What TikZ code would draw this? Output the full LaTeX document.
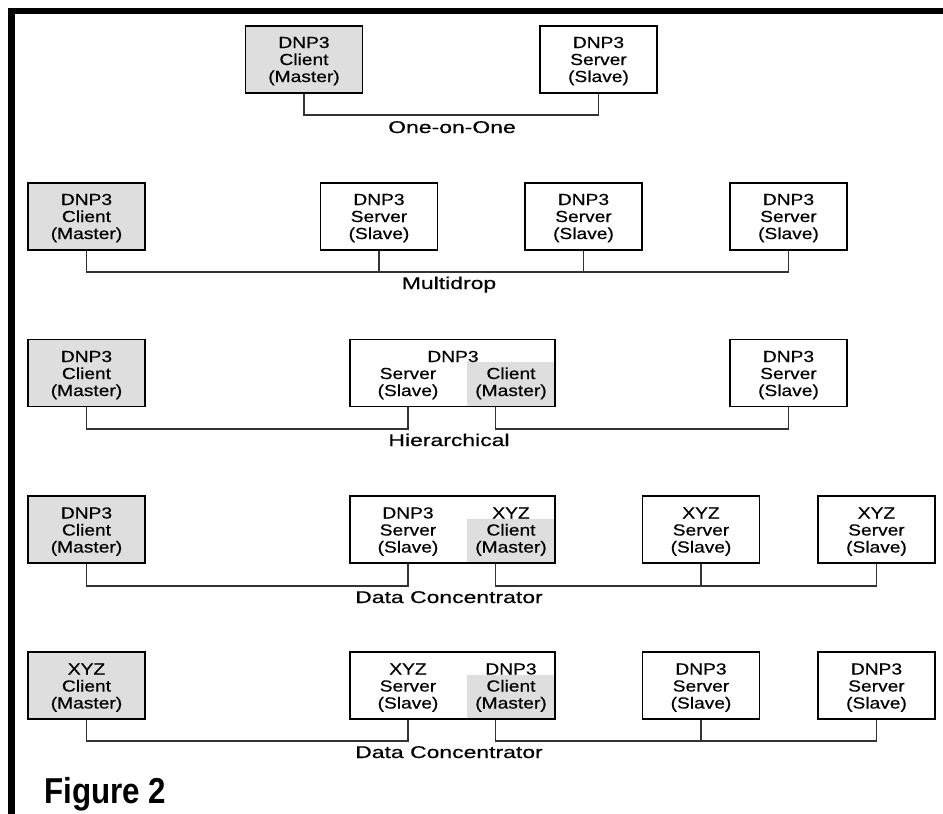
\documentclass[tikz,border=0pt]{standalone}
\usepackage{fontspec}
\usepackage{graphicx}
\setmainfont{Liberation Sans}
\newfontfamily\boxfont[FakeBold=0.4]{Liberation Sans}
\definecolor{mastergrey}{HTML}{DEDEDE}
\definecolor{wirecol}{HTML}{333333}
\newcommand\bxt[1]{\scalebox{1.2}[1]{#1}}
\newcommand\lbt[1]{\scalebox{1.35}[1]{#1}}
\newcommand\tri[6]{%
  \node[txt,anchor=base] (#1a) at (#2,#3) {\bxt{#4}};
  \node[txt,anchor=base] (#1b) at (#2,#3+17) {\bxt{#5}};
  \node[txt,anchor=base] (#1c) at (#2,#3+34) {\bxt{#6}};}
\begin{document}
\begin{tikzpicture}[x=1pt,y=-1pt,
  box/.style={draw=black, line width=1.1pt, minimum width=117pt, minimum height=67pt, inner sep=0pt},
  master/.style={box, fill=mastergrey},
  wide/.style={box, minimum width=205pt},
  txt/.style={font=\boxfont\fontsize{16}{17}\selectfont, inner sep=0pt},
  lbl/.style={font=\boxfont\fontsize{17}{20}\selectfont, inner sep=0pt, anchor=base},
  wire/.style={draw=wirecol, line width=1.1pt}]
\useasboundingbox (0,0) rectangle (943,814);
\fill[black] (8,8) rectangle (943,14);
\fill[black] (8,8) rectangle (15,814);

% ---------- Row 1: One-on-One
\node[master] (r1c) at (304,59.5) {};
\node[box] (r1s) at (598.5,59.5) {};
\tri{t1c}{304}{48}{DNP3}{Client}{(Master)}
\tri{t1s}{598.5}{48}{DNP3}{Server}{(Slave)}
\coordinate (b1) at (0,115);
\draw[wire] (r1c.south) |- (b1 -| r1s.south) -- (r1s.south);
\node[lbl] (l1) at (452,133) {\lbt{One-on-One}};

% ---------- Row 2: Multidrop
\node[master] (r2c) at (86.5,216.5) {};
\node[box] (r2s1) at (379,216.5) {};
\node[box] (r2s2) at (583.5,216.5) {};
\node[box] (r2s3) at (788.5,216.5) {};
\tri{t2c}{86.5}{205}{DNP3}{Client}{(Master)}
\tri{t2s1}{379}{205}{DNP3}{Server}{(Slave)}
\tri{t2s2}{583.5}{205}{DNP3}{Server}{(Slave)}
\tri{t2s3}{788.5}{205}{DNP3}{Server}{(Slave)}
\coordinate (b2) at (0,272);
\draw[wire] (r2c.south) |- (b2 -| r2s3.south) -- (r2s3.south);
\draw[wire] (r2s1.south) -- (r2s1.south |- b2);
\draw[wire] (r2s2.south) -- (r2s2.south |- b2);
\node[lbl] (l2) at (449,289) {\lbt{Multidrop}};

% ---------- Row 3: Hierarchical
\node[master] (r3c) at (86.5,373) {};
\fill[mastergrey] (467,362) rectangle (555,406.5);
\node[wide] (r3m) at (452.5,373) {};
\node[box] (r3s) at (788.5,373) {};
\tri{t3c}{86.5}{362}{DNP3}{Client}{(Master)}
\tri{t3s}{788.5}{362}{DNP3}{Server}{(Slave)}
\node[txt,anchor=base] (t3ma) at (453,362) {\bxt{DNP3}};
\node[txt,anchor=base] (t3mb) at (408,379) {\bxt{Server}};
\node[txt,anchor=base] (t3mc) at (408,396) {\bxt{(Slave)}};
\node[txt,anchor=base] (t3md) at (511,379) {\bxt{Client}};
\node[txt,anchor=base] (t3me) at (511,396) {\bxt{(Master)}};
\coordinate (r3mL) at ([xshift=58.5pt]r3m.south west);
\coordinate (r3mR) at ([xshift=146pt]r3m.south west);
\coordinate (b3) at (0,429);
\draw[wire] (r3c.south) |- (b3 -| r3mL) -- (r3mL);
\draw[wire] (r3mR) |- (b3 -| r3s.south) -- (r3s.south);
\node[lbl] (l3) at (449,446) {\lbt{Hierarchical}};

% ---------- Row 4: Data Concentrator (DNP3 -> XYZ)
\node[master] (r4c) at (86.5,529.5) {};
\fill[mastergrey] (467,518.5) rectangle (555,563);
\node[wide] (r4m) at (452.5,529.5) {};
\node[box] (r4s1) at (701,529.5) {};
\node[box] (r4s2) at (876.5,529.5) {};
\tri{t4c}{86.5}{518.5}{DNP3}{Client}{(Master)}
\tri{t4ml}{408}{518.5}{DNP3}{Server}{(Slave)}
\tri{t4mr}{511}{518.5}{XYZ}{Client}{(Master)}
\tri{t4s1}{701}{518.5}{XYZ}{Server}{(Slave)}
\tri{t4s2}{876.5}{518.5}{XYZ}{Server}{(Slave)}
\coordinate (r4mL) at ([xshift=58.5pt]r4m.south west);
\coordinate (r4mR) at ([xshift=146pt]r4m.south west);
\coordinate (b4) at (0,586);
\draw[wire] (r4c.south) |- (b4 -| r4mL) -- (r4mL);
\draw[wire] (r4mR) |- (b4 -| r4s2.south) -- (r4s2.south);
\draw[wire] (r4s1.south) -- (r4s1.south |- b4);
\node[lbl] (l4) at (449,603) {\lbt{Data Concentrator}};

% ---------- Row 5: Data Concentrator (XYZ -> DNP3)
\node[master] (r5c) at (86.5,685.5) {};
\fill[mastergrey] (467,674.5) rectangle (555,719);
\node[wide] (r5m) at (452.5,685.5) {};
\node[box] (r5s1) at (701,685.5) {};
\node[box] (r5s2) at (876.5,685.5) {};
\tri{t5c}{86.5}{674.5}{XYZ}{Client}{(Master)}
\tri{t5ml}{408}{674.5}{XYZ}{Server}{(Slave)}
\tri{t5mr}{511}{674.5}{DNP3}{Client}{(Master)}
\tri{t5s1}{701}{674.5}{DNP3}{Server}{(Slave)}
\tri{t5s2}{876.5}{674.5}{DNP3}{Server}{(Slave)}
\coordinate (r5mL) at ([xshift=58.5pt]r5m.south west);
\coordinate (r5mR) at ([xshift=146pt]r5m.south west);
\coordinate (b5) at (0,741);
\draw[wire] (r5c.south) |- (b5 -| r5mL) -- (r5mL);
\draw[wire] (r5mR) |- (b5 -| r5s2.south) -- (r5s2.south);
\draw[wire] (r5s1.south) -- (r5s1.south |- b5);
\node[lbl] (l5) at (449,758) {\lbt{Data Concentrator}};

% ---------- Caption
\node[font=\bfseries\fontsize{36}{40}\selectfont, inner sep=0pt, anchor=base west] (fig) at (44,803) {\scalebox{0.87}[1]{Figure 2}};
\end{tikzpicture}
\end{document}
